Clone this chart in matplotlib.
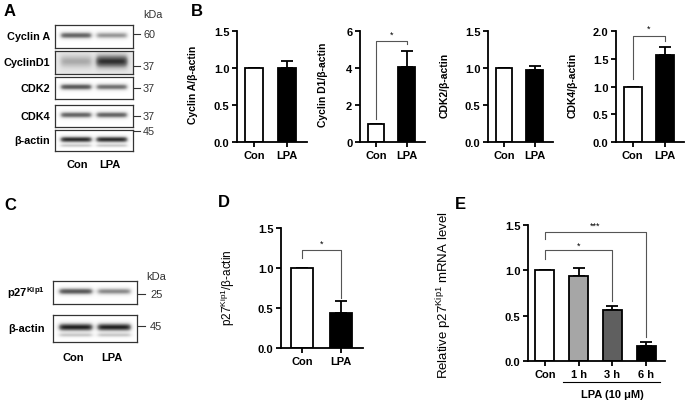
import matplotlib.pyplot as plt
import numpy as np

plt.rcParams['font.family'] = ['Liberation Sans', 'DejaVu Sans']
plt.rcParams['mathtext.fontset'] = 'custom'
plt.rcParams['mathtext.rm'] = 'Liberation Sans'
plt.rcParams['mathtext.bf'] = 'Liberation Sans:bold'

W, H = 685, 402

# ---- data ----
groups = ["Con", "LPA"]
cyclinA = [1.0, 1.0];   cyclinA_err = [0, 0.10]
cyclinD1 = [1.0, 4.05]; cyclinD1_err = [0, 0.85]
cdk2 = [1.0, 0.97];     cdk2_err = [0, 0.06]
cdk4 = [1.0, 1.56];     cdk4_err = [0, 0.15]
p27 = [1.0, 0.44];      p27_err = [0, 0.15]
e_groups = ["Con", "1 h", "3 h", "6 h"]
p27_mrna = [1.0, 0.94, 0.56, 0.16]
p27_mrna_err = [0, 0.09, 0.05, 0.05]

# blot band darkness (Con, LPA)
blotA_rows = ["Cyclin A", "CyclinD1", "CDK2", "CDK4", "β-actin"]
blotA_kda = ["60", "37", "37", "37", "45"]
blotA_band = [[0.75, 0.55], [0.30, 0.75], [0.80, 0.70], [0.75, 0.75], [0.95, 0.95]]
blotC_rows = ["p27$^{\\mathregular{Kip1}}$", "β-actin"]
blotC_kda = ["25", "45"]
blotC_band = [[0.80, 0.60], [0.98, 0.98]]

fig = plt.figure(figsize=(W / 100, H / 100), dpi=100)


def box(x0, y0, x1, y1):
    return [x0 / W, 1 - y1 / H, (x1 - x0) / W, (y1 - y0) / H]


def ftext(x, y, s, **kw):
    fig.text(x / W, 1 - y / H, s, **kw)


def blot(x0, y0, x1, y1, dark, bg=0.0, width=0.18, second=0.0):
    ax = fig.add_axes(box(x0, y0, x1, y1))
    xs = np.linspace(0, 1, 200)
    ys = np.linspace(0, 1, 60)
    X, Y = np.meshgrid(xs, ys)
    img = np.full(X.shape, bg)
    for i, d in enumerate(dark):
        cx = 0.27 + 0.46 * i
        lane = 1 / (1 + np.exp(-(X - (cx - 0.2)) * 60)) / (1 + np.exp((X - (cx + 0.2)) * 60))
        img += d * lane * np.exp(-((Y - 0.45) / width) ** 2)
        if second:
            img += second * d * lane * np.exp(-((Y - 0.75) / 0.08) ** 2)
    ax.imshow(np.clip(img, 0, 1), cmap='Greys', vmin=0, vmax=1.1, aspect='auto',
              extent=[0, 1, 1, 0], interpolation='bilinear')
    ax.set_xticks([]); ax.set_yticks([])
    for s in ax.spines.values():
        s.set_linewidth(0.9)
        s.set_color('#333333')
    return ax


def barplot(rect, vals, errs, colors, ylim, yticks, fmt, labels, width=0.55, xr=None):
    ax = fig.add_axes(box(*rect))
    x = np.arange(len(vals))
    ax.bar(x, vals, width=width, color=colors, edgecolor='black', linewidth=1.3, zorder=2)
    ax.errorbar(x, vals, yerr=[np.zeros(len(vals)), errs], fmt='none', ecolor='black',
                elinewidth=1.3, capsize=4, capthick=1.3, zorder=1)
    ax.set_ylim(*ylim)
    ax.set_xlim(*xr)
    ax.set_yticks(yticks)
    ax.set_yticklabels([fmt.format(t) for t in yticks], fontweight='bold', fontsize=8)
    ax.set_xticks(x)
    ax.set_xticklabels(labels, fontweight='bold', fontsize=8)
    for s in ['top', 'right']:
        ax.spines[s].set_visible(False)
    for s in ['left', 'bottom']:
        ax.spines[s].set_linewidth(1.3)
    ax.tick_params(width=1.3, length=3.5, pad=2)
    ax.patch.set_alpha(0)
    return ax


def bracket(ax, x1, x2, yl, yr, ytop, star, ys):
    ax.plot([x1, x1, x2, x2], [yl, ytop, ytop, yr], color='#555555', lw=0.8, clip_on=False)
    ax.text((x1 + x2) / 2, ys, star, ha='center', va='center', fontsize=6.5, clip_on=False)


# ---- panel letters ----
for lx, ly, l in [(4, 11, 'A'), (191, 12, 'B'), (4, 206, 'C'), (218, 203, 'D'), (455, 205, 'E')]:
    ftext(lx, ly, l, fontsize=12, fontweight='bold', va='center', ha='left')

# ---- panel A blots ----
rowsA = [(26, 49), (52, 75), (78, 100), (106, 128), (131, 152)]
kda_y = [35, 67, 89, 117, 132]
for i, (r0, r1) in enumerate(rowsA):
    bg = 0.18 if i == 1 else 0.0
    wd = 0.28 if i == 1 else 0.15
    blot(55, r0, 133, r1, blotA_band[i], bg=bg, width=wd, second=0.35 if i == 4 else 0.0)
    ftext(50, (r0 + r1) / 2, blotA_rows[i], fontsize=7.8, fontweight='bold', ha='right', va='center')
    fig.add_artist(plt.Line2D([134 / W, 140 / W], [1 - kda_y[i] / H] * 2, color='#333333', lw=0.8))
    ftext(143, kda_y[i], blotA_kda[i], fontsize=7.8, ha='left', va='center', color='#333333')
ftext(143, 15, 'kDa', fontsize=7.8, ha='left', va='center', color='#333333')
ftext(77, 165, 'Con', fontsize=8, fontweight='bold', ha='center', va='center')
ftext(110, 165, 'LPA', fontsize=8, fontweight='bold', ha='center', va='center')

# ---- panel C blots ----
rowsC = [(282, 305), (316, 343)]
kdaC_y = [295, 327]
for i, (r0, r1) in enumerate(rowsC):
    blot(53, r0, 137, r1, blotC_band[i], width=0.15, second=0.35 if i == 1 else 0.0)
    ftext(45, (r0 + r1) / 2, blotC_rows[i], fontsize=8, fontweight='bold', ha='right', va='center')
    fig.add_artist(plt.Line2D([138 / W, 145 / W], [1 - kdaC_y[i] / H] * 2, color='#333333', lw=0.8))
    ftext(150, kdaC_y[i], blotC_kda[i], fontsize=8, ha='left', va='center', color='#333333')
ftext(146, 277, 'kDa', fontsize=8, ha='left', va='center', color='#333333')
ftext(73, 358, 'Con', fontsize=8, fontweight='bold', ha='center', va='center')
ftext(112, 358, 'LPA', fontsize=8, fontweight='bold', ha='center', va='center')

# ---- panel B ----
two = ['white', 'black']
xr2 = (-0.52, 1.6)
ax1 = barplot((237, 32, 307, 143), cyclinA, cyclinA_err, two, (0, 1.5), [0, 0.5, 1.0, 1.5], '{:.1f}', groups, xr=xr2)
ax2 = barplot((360, 32, 425, 143), cyclinD1, cyclinD1_err, two, (0, 6), [0, 2, 4, 6], '{:.0f}', groups, xr=xr2)
ax3 = barplot((488, 32, 553, 143), cdk2, cdk2_err, two, (0, 1.5), [0, 0.5, 1.0, 1.5], '{:.1f}', groups, xr=xr2)
ax4 = barplot((616, 32, 684, 143), cdk4, cdk4_err, two, (0, 2.0), [0, 0.5, 1.0, 1.5, 2.0], '{:.1f}', groups, xr=xr2)
bracket(ax2, 0, 1, 1.22, 5.28, 5.46, '*', 5.85)
bracket(ax4, 0, 1, 1.13, 1.82, 1.91, '*', 2.05)
for xl, s in [(193, 'Cyclin A/β-actin'), (323, 'Cyclin D1/β-actin'), (445, 'CDK2/β-actin'), (573, 'CDK4/β-actin')]:
    ftext(xl, 85, s, fontsize=7.5, fontweight='bold', rotation=90, ha='center', va='center')

# ---- panel D ----
axd = barplot((281, 229, 363, 349), p27, p27_err, two, (0, 1.5), [0, 0.5, 1.0, 1.5], '{:.1f}', groups,
              xr=(-0.54, 1.56))
bracket(axd, 0, 1, 1.125, 0.62, 1.22, '*', 1.31)
ftext(228, 288, 'p27$^{\\mathregular{Kip1}}$/β-actin', fontsize=8.5, rotation=90, ha='center', va='center')

# ---- panel E ----
axe = barplot((528, 226, 665, 362), p27_mrna, p27_mrna_err, ['white', '#a6a6a6', '#5f5f5f', 'black'],
              (0, 1.5), [0, 0.5, 1.0, 1.5], '{:.1f}', e_groups, width=0.56, xr=(-0.5, 3.56))
bracket(axe, 0, 3, 1.35, 0.26, 1.42, '***', 1.50)
bracket(axe, 0, 2, 1.13, 0.66, 1.22, '*', 1.28)
ftext(444, 295, 'Relative p27$^{\\mathregular{Kip1}}$ mRNA level', fontsize=9.5, rotation=90, ha='center', va='center')
fig.add_artist(plt.Line2D([563 / W, 660 / W], [1 - 383 / H] * 2, color='black', lw=0.8))
ftext(612, 395, 'LPA (10 μM)', fontsize=8, fontweight='bold', ha='center', va='center')

fig.savefig('out.png', dpi=100)
